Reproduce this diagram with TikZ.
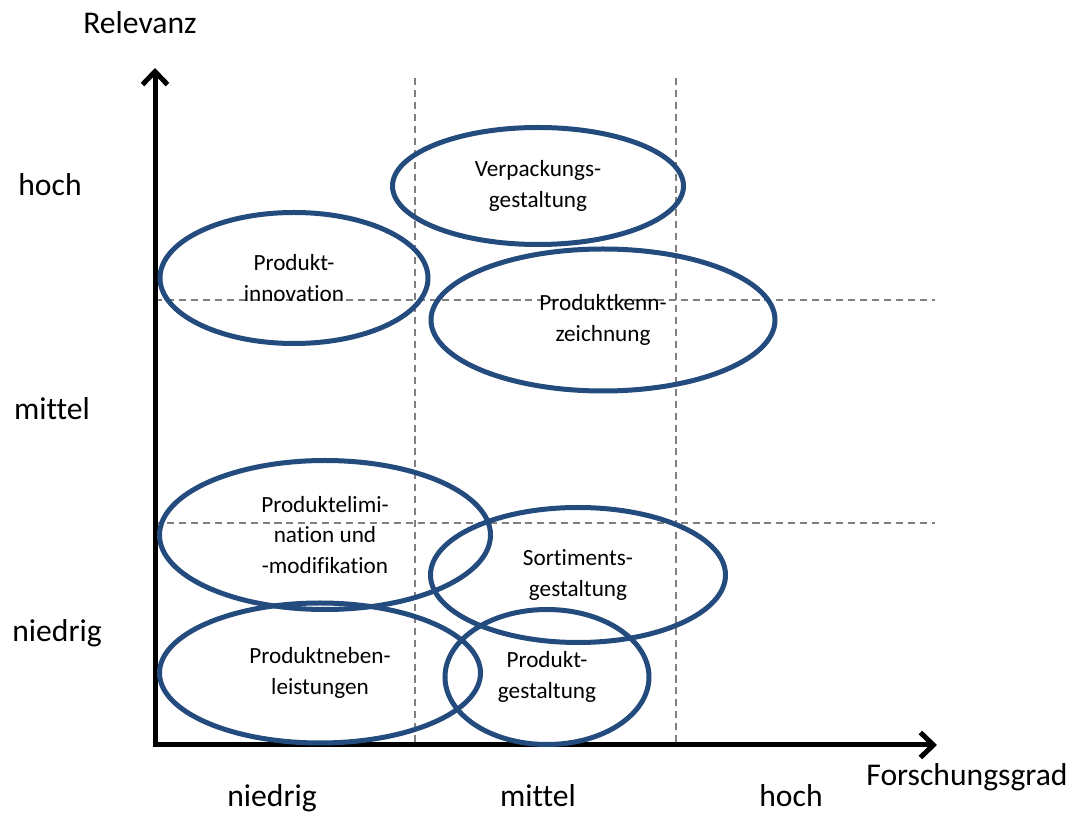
\documentclass[tikz,border=0pt]{standalone}
\usepackage{fontspec}
\setmainfont[Ligatures=NoCommon]{Carlito}
\usetikzlibrary{shapes.geometric,arrows.meta}
\definecolor{blasenblau}{RGB}{36,75,125}
\tikzset{
  achse/.style={line width=1mm,{Straight Barb[length=2.6mm,width=5mm]}-{Straight Barb[length=2.6mm,width=5mm]}},
  raster/.style={gray,line width=1pt,dash pattern=on 4pt off 2.8pt},
  blase/.style={ellipse,draw=blasenblau,line width=1mm,inner sep=0pt,align=center,
    font=\fontsize{13.2}{17.6}\selectfont},
  stufe/.style={anchor=base,inner sep=0pt,font=\fontsize{18}{22}\selectfont}
}
\begin{document}
\begin{tikzpicture}[x=0.2mm,y=-0.2mm]
  \useasboundingbox (0,0) rectangle (1073,814);

  % Raster
  \foreach \gx in {415,676}
    \draw[raster] (\gx,78) -- (\gx,745);
  \foreach \gy in {300,523}
    \draw[raster] (155,\gy) -- (935,\gy);

  % Achsen
  \coordinate (ursprung) at (155,745);
  \coordinate (yende) at (155,68);
  \coordinate (xende) at (937,745);
  \draw[achse] (yende) -- (ursprung) -- (xende);

  % Achsenbeschriftung
  \node[stufe] (relevanz) at (140,34) {Relevanz};
  \node[stufe] (forschung) at (967,786) {Forschungsgrad};
  \node[stufe] (yhoch) at (50,196) {hoch};
  \node[stufe] (ymittel) at (52,420) {mittel};
  \node[stufe] (yniedrig) at (57,642) {niedrig};
  \node[stufe] (xniedrig) at (272,807) {niedrig};
  \node[stufe] (xmittel) at (538,807) {mittel};
  \node[stufe] (xhoch) at (791,807) {hoch};

  % Themenfelder
  \node[blase,minimum width=58.2mm,minimum height=23.4mm] (verpackung) at (538,186) {Verpackungs-\\gestaltung};
  \node[blase,minimum width=53.6mm,minimum height=26.2mm] (innovation) at (294,278) {Produkt-\\innovation};
  \node[blase,minimum width=68.8mm,minimum height=28.4mm] (kennzeichnung) at (603,320) {Produktkenn-\\zeichnung};
  \node[blase,minimum width=66.2mm,minimum height=29.8mm] (elimination) at (325,535) {Produktelimi-\\nation und\\-modifikation};
  \node[blase,minimum width=59mm,minimum height=27mm] (sortiment) at (578,575) {Sortiments-\\gestaltung};
  \node[blase,minimum width=64.2mm,minimum height=28mm] (nebenleistung) at (320,673) {Produktneben-\\leistungen};
  \node[blase,minimum width=40.8mm,minimum height=27mm] (gestaltung) at (547,677) {Produkt-\\gestaltung};
\end{tikzpicture}
\end{document}
